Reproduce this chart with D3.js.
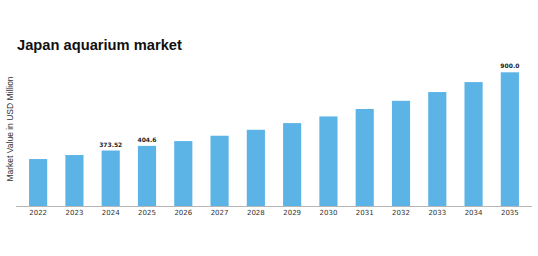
<!DOCTYPE html>
<html>
<head>
<meta charset="utf-8">
<script src="https://cdn.jsdelivr.net/npm/d3@7"></script>
<style>
    body { margin: 0; background: #fff; }
    .title { font-family: "Liberation Sans", Arial, sans-serif; font-weight: bold; font-size: 14.7px; fill: #111; }
    .y-label { font-family: "Liberation Sans", Arial, sans-serif; font-size: 8.5px; fill: #333; }
    .tick text { font-family: "DejaVu Sans", sans-serif; font-size: 7px; fill: #333; }
    .value-label { font-family: "DejaVu Sans", sans-serif; font-weight: bold; font-size: 6px; fill: #222; }
</style>
</head>
<body>
<div id="chart"></div>
<script>
(function (d3) {
    'use strict';

    var years = ['2022', '2023', '2024', '2025', '2026', '2027', '2028',
                 '2029', '2030', '2031', '2032', '2033', '2034', '2035'];
    var values = [316, 343, 373.52, 404.6, 437, 473, 513,
                  558, 603, 653, 708, 767, 834, 900.0];
    // Only these bars carry a value label.
    var labels = {'2024': '373.52', '2025': '404.6', '2035': '900.0'};

    var width = 538, height = 256;
    var baseline = 206;

    var svg = d3.select('#chart').append('svg')
        .attr('width', width)
        .attr('height', height)
    ;

    svg.append('text')
        .attr('class', 'title')
        .attr('x', 17)
        .attr('y', 50)
        .text('Japan aquarium market')
    ;

    svg.append('text')
        .attr('class', 'y-label')
        .attr('transform', 'translate(13,129) rotate(-90)')
        .attr('text-anchor', 'middle')
        .text('Market Value in USD Million')
    ;

    var x = d3.scaleBand()
        .domain(years)
        .range([20, 528])
        .paddingInner(0.5)
        .paddingOuter(0.25)
    ;

    var y = d3.scaleLinear()
        .domain([0, 900])
        .range([baseline, 72.3])
    ;

    svg.append('g')
        .selectAll('rect')
        .data(years)
        .enter()
        .append('rect')
        .attr('x', function (d) { return x(d); })
        .attr('width', x.bandwidth())
        .attr('y', function (d, i) { return y(values[i]); })
        .attr('height', function (d, i) { return baseline - y(values[i]); })
        .attr('fill', '#5bb3e6')
    ;

    svg.append('g')
        .selectAll('text')
        .data(years.filter(function (d) { return labels[d]; }))
        .enter()
        .append('text')
        .attr('class', 'value-label')
        .attr('text-anchor', 'middle')
        .attr('x', function (d) { return x(d) + x.bandwidth() / 2; })
        .attr('y', function (d) { return y(values[years.indexOf(d)]) - 4; })
        .text(function (d) { return labels[d]; })
    ;

    var axis = svg.append('g')
        .attr('transform', 'translate(0,' + baseline + ')')
        .call(d3.axisBottom(x).tickSize(0).tickPadding(4))
    ;
    axis.select('.domain')
        .attr('d', 'M16,0.5H532')
        .attr('stroke', '#b5b5b5')
    ;
}(d3));
</script>
</body>
</html>
